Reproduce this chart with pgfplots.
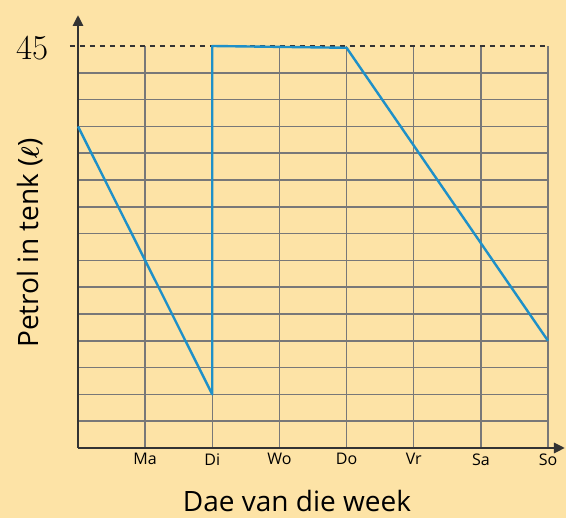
\documentclass[border=0pt]{standalone}
\usepackage{pgfplots}
\pgfplotsset{compat=1.18}
\usetikzlibrary{arrows.meta}
\usepackage{fontspec}
\setmainfont{Open Sans}
\newfontfamily\serifnum{Latin Modern Roman}
\usepackage{amsmath}
\definecolor{bg}{RGB}{253,227,166}
\definecolor{axiscol}{RGB}{51,51,51}
\definecolor{gridcol}{RGB}{120,120,120}
\definecolor{linecol}{RGB}{30,144,200}
\begin{document}
\begin{tikzpicture}
\useasboundingbox (0,0) rectangle (566pt,518pt);
\fill[bg] (0,0) rectangle (566pt,518pt);
\begin{axis}[
  at={(78pt,70pt)}, anchor=south west,
  scale only axis, width=470pt, height=402pt,
  xmin=0, xmax=7, ymin=0, ymax=45,
  axis x line=bottom, axis y line=left,
  x axis line style={-{Triangle[length=11pt,width=10pt]}, shorten >=-17pt, line width=2.8pt, color=axiscol},
  y axis line style={-{Triangle[length=11pt,width=10pt]}, shorten >=-31pt, line width=2.8pt, color=axiscol},
  xtick={1,2,3,4,5,6,7},
  xticklabels={Ma,Di,Wo,Do,Vr,Sa,So},
  ytick={3,6,9,12,15,18,21,24,27,30,33,36,39,42},
  yticklabels={},
  major tick length=0pt,
  grid=major,
  major grid style={gridcol, line width=1.5pt},
  xticklabel style={font=\fontsize{16}{16}\selectfont, yshift=-2pt},
  extra y ticks={45},
  extra y tick labels={\serifnum 45},
  extra y tick style={grid=none, yticklabel style={font=\fontsize{35}{35}\selectfont, xshift=-26pt, yshift=-2pt}},
  xlabel={Dae van die week},
  xlabel style={font=\fontsize{28}{28}\selectfont, at={(axis description cs:0.466,0)}, anchor=base, yshift=-64pt},
  ylabel={Petrol in tenk ($\boldsymbol{\ell}$)},
  ylabel style={font=\fontsize{28}{28}\selectfont, at={(axis description cs:-0.083,0.51)}, anchor=base},
  clip=false,
]
\addplot[axiscol, line width=1.8pt, dash pattern=on 5pt off 5pt] coordinates {(-0.12,45) (7,45)};
\addplot[linecol, line width=2.4pt, line join=round] coordinates {(0,36) (2,6) (2,45) (4,44.8) (7,12)};
\end{axis}
\end{tikzpicture}
\end{document}
